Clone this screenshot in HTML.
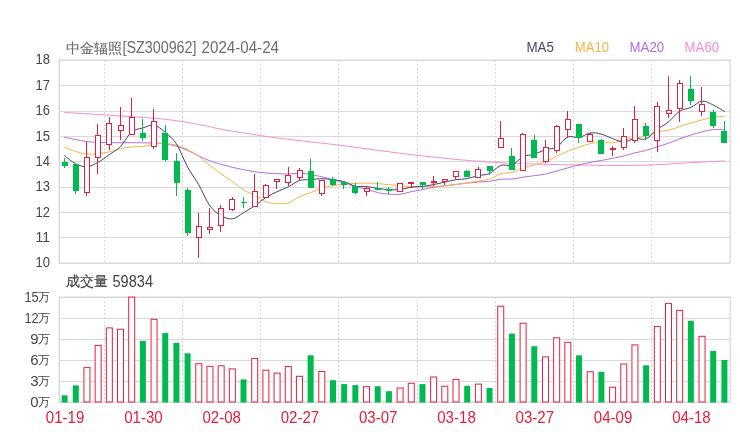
<!DOCTYPE html><html><head><meta charset="utf-8"><style>html,body{margin:0;padding:0;background:#fff;width:740px;height:440px;overflow:hidden}svg{display:block;will-change:transform}text{font-family:"Liberation Sans",sans-serif}</style></head><body>
<svg width="740" height="440" viewBox="0 0 740 440">
<rect width="740" height="440" fill="#fff"/>
<g stroke="#d9d9d9" stroke-width="1" fill="none">
<line x1="59" y1="85.5" x2="730" y2="85.5"/>
<line x1="59" y1="111.5" x2="730" y2="111.5"/>
<line x1="59" y1="136.5" x2="730" y2="136.5"/>
<line x1="59" y1="161.5" x2="730" y2="161.5"/>
<line x1="59" y1="187.5" x2="730" y2="187.5"/>
<line x1="59" y1="212.5" x2="730" y2="212.5"/>
<line x1="59" y1="237.5" x2="730" y2="237.5"/>
<rect x="59" y="60" width="671" height="203"/>
<path d="M59 60.5 H730 M59 263.5 H730 M59.5 60 V264"/>
<line x1="59" y1="318.5" x2="730" y2="318.5"/>
<line x1="59" y1="339.5" x2="730" y2="339.5"/>
<line x1="59" y1="360.5" x2="730" y2="360.5"/>
<line x1="59" y1="381.5" x2="730" y2="381.5"/>
<rect x="59" y="297" width="671" height="105"/>
<path d="M59 297.5 H730 M59 402.5 H730 M59.5 297 V403"/>
</g>
<g stroke="#d9d9d9" stroke-width="1" stroke-dasharray="2 2" fill="none">
<line x1="104.5" y1="60" x2="104.5" y2="263"/>
<line x1="104.5" y1="297" x2="104.5" y2="402"/>
<line x1="182.5" y1="60" x2="182.5" y2="263"/>
<line x1="182.5" y1="297" x2="182.5" y2="402"/>
<line x1="260.5" y1="60" x2="260.5" y2="263"/>
<line x1="260.5" y1="297" x2="260.5" y2="402"/>
<line x1="338.5" y1="60" x2="338.5" y2="263"/>
<line x1="338.5" y1="297" x2="338.5" y2="402"/>
<line x1="417.5" y1="60" x2="417.5" y2="263"/>
<line x1="417.5" y1="297" x2="417.5" y2="402"/>
<line x1="495.5" y1="60" x2="495.5" y2="263"/>
<line x1="495.5" y1="297" x2="495.5" y2="402"/>
<line x1="573.5" y1="60" x2="573.5" y2="263"/>
<line x1="573.5" y1="297" x2="573.5" y2="402"/>
<line x1="651.5" y1="60" x2="651.5" y2="263"/>
<line x1="651.5" y1="297" x2="651.5" y2="402"/>
<line x1="730.5" y1="60" x2="730.5" y2="263"/>
<line x1="730.5" y1="297" x2="730.5" y2="402"/>
</g>
<g fill="none" stroke-width="1" stroke-linejoin="round" stroke-linecap="round">
<path stroke="#f88dc9" d="M64.60 112.40 C71.27 112.82 92.02 114.08 104.60 114.90 C117.18 115.72 130.80 116.65 140.10 117.30 C149.40 117.95 153.30 118.08 160.40 118.80 C167.50 119.52 176.10 120.58 182.70 121.60 C189.30 122.62 195.62 124.10 200.00 124.90 C204.38 125.70 205.10 125.60 209.00 126.40 C212.90 127.20 214.77 128.17 223.40 129.70 C232.03 131.23 250.53 134.07 260.80 135.60 C271.07 137.13 271.80 137.28 285.00 138.90 C298.20 140.52 318.00 142.57 340.00 145.30 C362.00 148.03 393.67 152.62 417.00 155.30 C440.33 157.98 461.05 159.97 480.00 161.40 C498.95 162.83 513.80 163.30 530.70 163.90 C547.60 164.50 567.35 164.73 581.40 165.00 C595.45 165.27 603.40 165.50 615.00 165.50 C626.60 165.50 638.30 165.48 651.00 165.00 C663.70 164.52 678.97 163.28 691.20 162.60 C703.43 161.92 718.87 161.18 724.40 160.90"/>
<path stroke="#b26fe4" d="M64.59 137.20 C66.46 137.60 72.05 138.87 75.78 139.60 C79.50 140.33 83.23 141.13 86.96 141.60 C90.69 142.07 94.41 142.22 98.14 142.40 C101.87 142.58 105.60 142.65 109.33 142.70 C113.05 142.75 116.78 142.70 120.51 142.70 C124.24 142.70 127.96 142.68 131.69 142.70 C135.42 142.72 139.15 142.75 142.88 142.80 C146.60 142.85 150.33 142.83 154.06 143.00 C157.79 143.17 161.51 143.27 165.24 143.80 C168.97 144.33 172.70 145.12 176.43 146.20 C180.15 147.28 183.88 148.68 187.61 150.30 C191.34 151.92 195.06 154.15 198.79 155.90 C202.52 157.65 206.25 159.38 209.97 160.80 C213.70 162.22 217.43 163.32 221.16 164.40 C224.89 165.48 228.61 166.42 232.34 167.30 C236.07 168.18 239.80 168.97 243.53 169.70 C247.25 170.43 250.98 171.15 254.71 171.70 C258.44 172.25 262.16 172.69 265.89 173.00 C269.62 173.31 273.35 173.41 277.08 173.58 C280.80 173.75 284.53 174.14 288.26 174.05 C291.99 173.96 295.71 172.95 299.44 173.03 C303.17 173.12 306.90 173.92 310.62 174.54 C314.35 175.17 318.08 175.89 321.81 176.78 C325.54 177.66 329.26 178.85 332.99 179.85 C336.72 180.86 340.45 181.70 344.18 182.83 C347.90 183.96 351.63 185.56 355.36 186.62 C359.09 187.68 362.81 188.16 366.54 189.16 C370.27 190.16 374.00 191.77 377.73 192.61 C381.45 193.45 385.18 193.92 388.91 194.19 C392.64 194.45 396.36 194.64 400.09 194.22 C403.82 193.80 407.55 192.43 411.28 191.66 C415.00 190.88 418.73 190.31 422.46 189.58 C426.19 188.85 429.91 187.89 433.64 187.26 C437.37 186.63 441.10 186.28 444.82 185.81 C448.55 185.33 452.28 184.86 456.01 184.42 C459.74 183.97 463.46 183.53 467.19 183.13 C470.92 182.73 474.65 182.32 478.38 182.02 C482.10 181.71 485.83 181.76 489.56 181.30 C493.29 180.83 497.01 179.61 500.74 179.22 C504.47 178.84 508.20 179.33 511.93 178.99 C515.65 178.65 519.38 177.73 523.11 177.18 C526.84 176.63 530.56 176.21 534.29 175.68 C538.02 175.16 541.75 174.79 545.48 174.03 C549.20 173.26 552.93 172.13 556.66 171.09 C560.39 170.06 564.11 168.83 567.84 167.82 C571.57 166.81 575.30 165.95 579.02 165.03 C582.75 164.10 586.48 163.06 590.21 162.30 C593.94 161.54 597.66 161.13 601.39 160.47 C605.12 159.80 608.85 159.06 612.58 158.31 C616.30 157.56 620.03 156.87 623.76 155.95 C627.49 155.04 631.21 153.75 634.94 152.83 C638.67 151.90 642.40 151.43 646.12 150.41 C649.85 149.38 653.58 147.87 657.31 146.68 C661.04 145.49 664.76 144.56 668.49 143.25 C672.22 141.94 675.95 140.20 679.68 138.83 C683.40 137.46 687.13 136.22 690.86 135.05 C694.59 133.87 698.31 132.72 702.04 131.81 C705.77 130.89 709.50 129.89 713.23 129.55 C716.95 129.21 722.54 129.74 724.41 129.78"/>
<path stroke="#f7b348" d="M64.59 147.30 C66.46 148.02 72.05 150.47 75.78 151.60 C79.50 152.73 83.23 153.73 86.96 154.10 C90.69 154.47 94.41 154.18 98.14 153.80 C101.87 153.42 105.60 152.63 109.33 151.80 C113.05 150.97 116.78 149.62 120.51 148.80 C124.24 147.98 127.96 147.28 131.69 146.90 C135.42 146.52 139.15 146.95 142.88 146.50 C146.60 146.05 150.33 144.70 154.06 144.20 C157.79 143.70 161.51 143.34 165.24 143.51 C168.97 143.67 172.70 144.20 176.43 145.19 C180.15 146.18 183.88 147.60 187.61 149.46 C191.34 151.32 195.06 153.68 198.79 156.36 C202.52 159.04 206.25 162.58 209.97 165.52 C213.70 168.46 217.43 171.37 221.16 174.02 C224.89 176.67 228.61 178.76 232.34 181.41 C236.07 184.06 239.80 187.59 243.53 189.90 C247.25 192.21 250.98 193.30 254.71 195.26 C258.44 197.22 262.16 200.28 265.89 201.68 C269.62 203.08 273.35 203.45 277.08 203.65 C280.80 203.85 284.53 204.08 288.26 202.91 C291.99 201.73 295.71 198.30 299.44 196.60 C303.17 194.91 306.90 194.15 310.62 192.72 C314.35 191.30 318.08 189.21 321.81 188.03 C325.54 186.86 329.26 186.32 332.99 185.69 C336.72 185.06 340.45 184.64 344.18 184.25 C347.90 183.86 351.63 183.54 355.36 183.34 C359.09 183.14 362.81 183.03 366.54 183.06 C370.27 183.09 374.00 183.26 377.73 183.54 C381.45 183.82 385.18 184.39 388.91 184.72 C392.64 185.05 396.36 185.20 400.09 185.54 C403.82 185.87 407.55 186.55 411.28 186.70 C415.00 186.85 418.73 186.47 422.46 186.44 C426.19 186.40 429.91 186.57 433.64 186.49 C437.37 186.40 441.10 186.24 444.82 185.92 C448.55 185.60 452.28 185.08 456.01 184.58 C459.74 184.08 463.46 183.52 467.19 182.92 C470.92 182.32 474.65 181.62 478.38 180.97 C482.10 180.32 485.83 180.26 489.56 179.05 C493.29 177.84 497.01 174.83 500.74 173.73 C504.47 172.63 508.20 173.45 511.93 172.44 C515.65 171.43 519.38 168.90 523.11 167.65 C526.84 166.40 530.56 165.94 534.29 164.93 C538.02 163.92 541.75 163.01 545.48 161.57 C549.20 160.13 552.93 158.02 556.66 156.27 C560.39 154.52 564.11 152.58 567.84 151.06 C571.57 149.54 575.30 148.37 579.02 147.13 C582.75 145.89 586.48 144.50 590.21 143.62 C593.94 142.75 597.66 142.00 601.39 141.88 C605.12 141.76 608.85 143.29 612.58 142.89 C616.30 142.49 620.03 140.28 623.76 139.47 C627.49 138.66 631.21 138.61 634.94 138.01 C638.67 137.41 642.40 136.92 646.12 135.88 C649.85 134.84 653.58 132.73 657.31 131.79 C661.04 130.85 664.76 131.09 668.49 130.23 C672.22 129.36 675.95 127.81 679.68 126.60 C683.40 125.39 687.13 124.06 690.86 122.96 C694.59 121.86 698.31 120.95 702.04 119.99 C705.77 119.03 709.50 117.78 713.23 117.22 C716.95 116.66 722.54 116.75 724.41 116.66"/>
<path stroke="#45456e" d="M64.59 155.70 C66.46 157.07 72.05 162.07 75.78 163.90 C79.50 165.73 83.23 166.97 86.96 166.70 C90.69 166.43 94.41 164.32 98.14 162.30 C101.87 160.28 105.60 157.24 109.33 154.60 C113.05 151.96 116.78 150.27 120.51 146.48 C124.24 142.69 127.96 134.94 131.69 131.86 C135.42 128.78 139.15 129.13 142.88 128.00 C146.60 126.87 150.33 124.34 154.06 125.08 C157.79 125.82 161.51 129.28 165.24 132.42 C168.97 135.56 172.70 138.13 176.43 143.90 C180.15 149.67 183.88 160.26 187.61 167.06 C191.34 173.86 195.06 178.24 198.79 184.72 C202.52 191.20 206.25 200.81 209.97 205.96 C213.70 211.11 217.43 213.46 221.16 215.62 C224.89 217.78 228.61 219.40 232.34 218.92 C236.07 218.44 239.80 214.93 243.53 212.74 C247.25 210.55 250.98 208.36 254.71 205.80 C258.44 203.24 262.16 199.75 265.89 197.40 C269.62 195.05 273.35 193.43 277.08 191.68 C280.80 189.93 284.53 188.76 288.26 186.89 C291.99 185.02 295.71 181.68 299.44 180.47 C303.17 179.26 306.90 179.95 310.62 179.65 C314.35 179.35 318.08 178.66 321.81 178.67 C325.54 178.68 329.26 179.21 332.99 179.70 C336.72 180.19 340.45 180.52 344.18 181.61 C347.90 182.69 351.63 185.40 355.36 186.21 C359.09 187.02 362.81 186.10 366.54 186.47 C370.27 186.84 374.00 187.87 377.73 188.41 C381.45 188.96 385.18 189.56 388.91 189.74 C392.64 189.92 396.36 189.88 400.09 189.46 C403.82 189.04 407.55 187.71 411.28 187.20 C415.00 186.69 418.73 186.84 422.46 186.40 C426.19 185.96 429.91 185.28 433.64 184.56 C437.37 183.84 441.10 182.91 444.82 182.10 C448.55 181.29 452.28 180.28 456.01 179.70 C459.74 179.12 463.46 179.33 467.19 178.64 C470.92 177.95 474.65 176.39 478.38 175.54 C482.10 174.69 485.83 175.24 489.56 173.54 C493.29 171.84 497.01 166.75 500.74 165.36 C504.47 163.97 508.20 166.63 511.93 165.18 C515.65 163.73 519.38 158.47 523.11 156.66 C526.84 154.85 530.56 155.50 534.29 154.32 C538.02 153.14 541.75 150.79 545.48 149.60 C549.20 148.41 552.93 149.29 556.66 147.18 C560.39 145.07 564.11 138.54 567.84 136.94 C571.57 135.34 575.30 138.27 579.02 137.60 C582.75 136.93 586.48 133.49 590.21 132.92 C593.94 132.35 597.66 133.21 601.39 134.16 C605.12 135.11 608.85 137.29 612.58 138.60 C616.30 139.91 620.03 142.03 623.76 142.00 C627.49 141.97 631.21 138.95 634.94 138.42 C638.67 137.89 642.40 140.34 646.12 138.84 C649.85 137.34 653.58 132.25 657.31 129.42 C661.04 126.59 664.76 124.90 668.49 121.86 C672.22 118.82 675.95 113.59 679.68 111.20 C683.40 108.81 687.13 109.18 690.86 107.50 C694.59 105.82 698.31 101.55 702.04 101.14 C705.77 100.73 709.50 103.30 713.23 105.02 C716.95 106.74 722.54 110.39 724.41 111.46"/>
</g>
<path stroke="#00b94f" stroke-width="1" fill="none" d="M64.5 158.0 V168.0"/>
<rect x="62" y="162" width="6" height="4" fill="#00b94f"/>
<path stroke="#00b94f" stroke-width="1" fill="none" d="M75.5 164.0 V194.0"/>
<rect x="73" y="164" width="6" height="27" fill="#00b94f"/>
<path stroke="#e2203f" stroke-width="1" fill="none" d="M86.5 142 V157.5 M86.5 192.5 V196"/>
<rect x="84.5" y="157.5" width="5" height="35.0" fill="#fff" stroke="#e2203f" stroke-width="1"/>
<path stroke="#e2203f" stroke-width="1" fill="none" d="M97.5 124 V135.5 M97.5 157.5 V174"/>
<rect x="95.5" y="135.5" width="5" height="22.0" fill="#fff" stroke="#e2203f" stroke-width="1"/>
<path stroke="#e2203f" stroke-width="1" fill="none" d="M109.5 117 V123.5 M109.5 144.5 V150"/>
<rect x="106.5" y="123.5" width="5" height="21.0" fill="#fff" stroke="#e2203f" stroke-width="1"/>
<path stroke="#e2203f" stroke-width="1" fill="none" d="M120.5 107 V125.5 M120.5 130.5 V140"/>
<rect x="118.5" y="125.5" width="5" height="5.0" fill="#fff" stroke="#e2203f" stroke-width="1"/>
<path stroke="#e2203f" stroke-width="1" fill="none" d="M131.5 98 V117.5 M131.5 134.5 V134"/>
<rect x="129.5" y="117.5" width="5" height="17.0" fill="#fff" stroke="#e2203f" stroke-width="1"/>
<path stroke="#00b94f" stroke-width="1" fill="none" d="M142.5 119.0 V141.0"/>
<rect x="140" y="133" width="6" height="5" fill="#00b94f"/>
<path stroke="#e2203f" stroke-width="1" fill="none" d="M153.5 109 V121.5 M153.5 146.5 V149"/>
<rect x="151.5" y="121.5" width="5" height="25.0" fill="#fff" stroke="#e2203f" stroke-width="1"/>
<path stroke="#00b94f" stroke-width="1" fill="none" d="M165.5 125.0 V161.0"/>
<rect x="162" y="133" width="6" height="27" fill="#00b94f"/>
<path stroke="#00b94f" stroke-width="1" fill="none" d="M176.5 153.0 V196.0"/>
<rect x="174" y="161" width="6" height="22" fill="#00b94f"/>
<path stroke="#00b94f" stroke-width="1" fill="none" d="M187.5 188.0 V236.0"/>
<rect x="185" y="190" width="6" height="43" fill="#00b94f"/>
<path stroke="#e2203f" stroke-width="1" fill="none" d="M198.5 213 V226.5 M198.5 237.5 V258"/>
<rect x="196.5" y="226.5" width="5" height="11.0" fill="#fff" stroke="#e2203f" stroke-width="1"/>
<path stroke="#e2203f" stroke-width="1" fill="none" d="M209.5 208 V227.5 M209.5 229.5 V234"/>
<rect x="207.5" y="227.5" width="5" height="2.0" fill="#fff" stroke="#e2203f" stroke-width="1"/>
<path stroke="#e2203f" stroke-width="1" fill="none" d="M220.5 205 V208.5 M220.5 225.5 V232"/>
<rect x="218.5" y="208.5" width="5" height="17.0" fill="#fff" stroke="#e2203f" stroke-width="1"/>
<path stroke="#e2203f" stroke-width="1" fill="none" d="M232.5 197 V199.5 M232.5 209.5 V211"/>
<rect x="229.5" y="199.5" width="5" height="10.0" fill="#fff" stroke="#e2203f" stroke-width="1"/>
<path stroke="#00b94f" stroke-width="1" fill="none" d="M243.5 197.0 V208.0"/>
<rect x="241" y="202" width="6" height="1" fill="#00b94f"/>
<path stroke="#e2203f" stroke-width="1" fill="none" d="M254.5 174 V191.5 M254.5 206.5 V206"/>
<rect x="252.5" y="191.5" width="5" height="15.0" fill="#fff" stroke="#e2203f" stroke-width="1"/>
<path stroke="#e2203f" stroke-width="1" fill="none" d="M265.5 184 V185.5 M265.5 197.5 V197"/>
<rect x="263.5" y="185.5" width="5" height="12.0" fill="#fff" stroke="#e2203f" stroke-width="1"/>
<path stroke="#e2203f" stroke-width="1" fill="none" d="M276.5 180 V179.5 M276.5 181.5 V189"/>
<rect x="274.5" y="179.5" width="5" height="2.0" fill="#fff" stroke="#e2203f" stroke-width="1"/>
<path stroke="#e2203f" stroke-width="1" fill="none" d="M288.5 167 V175.5 M288.5 182.5 V186"/>
<rect x="285.5" y="175.5" width="5" height="7.0" fill="#fff" stroke="#e2203f" stroke-width="1"/>
<path stroke="#e2203f" stroke-width="1" fill="none" d="M299.5 168 V170.5 M299.5 177.5 V181"/>
<rect x="297.5" y="170.5" width="5" height="7.0" fill="#fff" stroke="#e2203f" stroke-width="1"/>
<path stroke="#00b94f" stroke-width="1" fill="none" d="M310.5 159.0 V188.0"/>
<rect x="308" y="171" width="6" height="17" fill="#00b94f"/>
<path stroke="#e2203f" stroke-width="1" fill="none" d="M321.5 180 V180.5 M321.5 193.5 V196"/>
<rect x="319.5" y="180.5" width="5" height="13.0" fill="#fff" stroke="#e2203f" stroke-width="1"/>
<path stroke="#00b94f" stroke-width="1" fill="none" d="M332.5 177.0 V186.0"/>
<rect x="330" y="179" width="6" height="6" fill="#00b94f"/>
<path stroke="#00b94f" stroke-width="1" fill="none" d="M343.5 181.0 V189.0"/>
<rect x="341" y="182" width="6" height="3" fill="#00b94f"/>
<path stroke="#00b94f" stroke-width="1" fill="none" d="M355.5 183.0 V194.0"/>
<rect x="352" y="186" width="6" height="7" fill="#00b94f"/>
<path stroke="#e2203f" stroke-width="1" fill="none" d="M366.5 186 V188.5 M366.5 191.5 V196"/>
<rect x="364.5" y="188.5" width="5" height="3.0" fill="#fff" stroke="#e2203f" stroke-width="1"/>
<path stroke="#00b94f" stroke-width="1" fill="none" d="M377.5 182.0 V190.0"/>
<rect x="375" y="188" width="6" height="2" fill="#00b94f"/>
<path stroke="#00b94f" stroke-width="1" fill="none" d="M388.5 187.0 V194.0"/>
<rect x="386" y="189" width="6" height="2" fill="#00b94f"/>
<path stroke="#e2203f" stroke-width="1" fill="none" d="M399.5 183 V183.5 M399.5 191.5 V192"/>
<rect x="397.5" y="183.5" width="5" height="8.0" fill="#fff" stroke="#e2203f" stroke-width="1"/>
<path stroke="#e2203f" stroke-width="1" fill="none" d="M411.5 182 V182.5 M411.5 183.5 V188"/>
<rect x="408.5" y="182.5" width="5" height="1.0" fill="#fff" stroke="#e2203f" stroke-width="1"/>
<path stroke="#00b94f" stroke-width="1" fill="none" d="M422.5 182.0 V189.0"/>
<rect x="420" y="182" width="6" height="3" fill="#00b94f"/>
<path stroke="#e2203f" stroke-width="1" fill="none" d="M433.5 176 V181.5 M433.5 182.5 V186"/>
<rect x="431.5" y="181.5" width="5" height="1.0" fill="#fff" stroke="#e2203f" stroke-width="1"/>
<path stroke="#e2203f" stroke-width="1" fill="none" d="M444.5 179 V179.5 M444.5 181.5 V185"/>
<rect x="442.5" y="179.5" width="5" height="2.0" fill="#fff" stroke="#e2203f" stroke-width="1"/>
<path stroke="#e2203f" stroke-width="1" fill="none" d="M455.5 171 V171.5 M455.5 176.5 V179"/>
<rect x="453.5" y="171.5" width="5" height="5.0" fill="#fff" stroke="#e2203f" stroke-width="1"/>
<path stroke="#00b94f" stroke-width="1" fill="none" d="M466.5 170.0 V177.0"/>
<rect x="464" y="171" width="6" height="6" fill="#00b94f"/>
<path stroke="#e2203f" stroke-width="1" fill="none" d="M478.5 167 V169.5 M478.5 177.5 V177"/>
<rect x="475.5" y="169.5" width="5" height="8.0" fill="#fff" stroke="#e2203f" stroke-width="1"/>
<path stroke="#00b94f" stroke-width="1" fill="none" d="M489.5 166.0 V175.0"/>
<rect x="487" y="166" width="6" height="5" fill="#00b94f"/>
<path stroke="#e2203f" stroke-width="1" fill="none" d="M500.5 121 V138.5 M500.5 147.5 V148"/>
<rect x="498.5" y="138.5" width="5" height="9.0" fill="#fff" stroke="#e2203f" stroke-width="1"/>
<path stroke="#00b94f" stroke-width="1" fill="none" d="M511.5 148.0 V170.0"/>
<rect x="509" y="156" width="6" height="14" fill="#00b94f"/>
<path stroke="#e2203f" stroke-width="1" fill="none" d="M522.5 133 V134.5 M522.5 170.5 V170"/>
<rect x="520.5" y="134.5" width="5" height="36.0" fill="#fff" stroke="#e2203f" stroke-width="1"/>
<path stroke="#00b94f" stroke-width="1" fill="none" d="M534.5 135.0 V158.0"/>
<rect x="531" y="140" width="6" height="18" fill="#00b94f"/>
<path stroke="#e2203f" stroke-width="1" fill="none" d="M545.5 140 V147.5 M545.5 161.5 V163"/>
<rect x="543.5" y="147.5" width="5" height="14.0" fill="#fff" stroke="#e2203f" stroke-width="1"/>
<path stroke="#e2203f" stroke-width="1" fill="none" d="M556.5 125 V126.5 M556.5 150.5 V153"/>
<rect x="554.5" y="126.5" width="5" height="24.0" fill="#fff" stroke="#e2203f" stroke-width="1"/>
<path stroke="#e2203f" stroke-width="1" fill="none" d="M567.5 111 V119.5 M567.5 129.5 V138"/>
<rect x="565.5" y="119.5" width="5" height="10.0" fill="#fff" stroke="#e2203f" stroke-width="1"/>
<path stroke="#00b94f" stroke-width="1" fill="none" d="M578.5 124.0 V143.0"/>
<rect x="576" y="124" width="6" height="14" fill="#00b94f"/>
<path stroke="#e2203f" stroke-width="1" fill="none" d="M590.5 133 V134.5 M590.5 141.5 V142"/>
<rect x="587.5" y="134.5" width="5" height="7.0" fill="#fff" stroke="#e2203f" stroke-width="1"/>
<path stroke="#00b94f" stroke-width="1" fill="none" d="M601.5 139.0 V154.0"/>
<rect x="598" y="140" width="6" height="14" fill="#00b94f"/>
<path stroke="#e2203f" stroke-width="1" fill="none" d="M612.5 146 V148.5 M612.5 149.5 V156"/>
<rect x="610.5" y="148.5" width="5" height="1.0" fill="#fff" stroke="#e2203f" stroke-width="1"/>
<path stroke="#e2203f" stroke-width="1" fill="none" d="M623.5 128 V136.5 M623.5 147.5 V150"/>
<rect x="621.5" y="136.5" width="5" height="11.0" fill="#fff" stroke="#e2203f" stroke-width="1"/>
<path stroke="#e2203f" stroke-width="1" fill="none" d="M634.5 106 V119.5 M634.5 140.5 V143"/>
<rect x="632.5" y="119.5" width="5" height="21.0" fill="#fff" stroke="#e2203f" stroke-width="1"/>
<path stroke="#00b94f" stroke-width="1" fill="none" d="M645.5 123.0 V140.0"/>
<rect x="643" y="126" width="6" height="10" fill="#00b94f"/>
<path stroke="#e2203f" stroke-width="1" fill="none" d="M657.5 102 V106.5 M657.5 140.5 V152"/>
<rect x="654.5" y="106.5" width="5" height="34.0" fill="#fff" stroke="#e2203f" stroke-width="1"/>
<path stroke="#e2203f" stroke-width="1" fill="none" d="M668.5 76 V110.5 M668.5 113.5 V118"/>
<rect x="666.5" y="110.5" width="5" height="3.0" fill="#fff" stroke="#e2203f" stroke-width="1"/>
<path stroke="#e2203f" stroke-width="1" fill="none" d="M679.5 80 V83.5 M679.5 108.5 V122"/>
<rect x="677.5" y="83.5" width="5" height="25.0" fill="#fff" stroke="#e2203f" stroke-width="1"/>
<path stroke="#00b94f" stroke-width="1" fill="none" d="M690.5 76.0 V105.0"/>
<rect x="688" y="89" width="6" height="12" fill="#00b94f"/>
<path stroke="#e2203f" stroke-width="1" fill="none" d="M701.5 87 V104.5 M701.5 111.5 V116"/>
<rect x="699.5" y="104.5" width="5" height="7.0" fill="#fff" stroke="#e2203f" stroke-width="1"/>
<path stroke="#00b94f" stroke-width="1" fill="none" d="M713.5 110.0 V128.0"/>
<rect x="710" y="112" width="6" height="14" fill="#00b94f"/>
<path stroke="#00b94f" stroke-width="1" fill="none" d="M724.5 121.0 V143.0"/>
<rect x="721" y="131" width="6" height="12" fill="#00b94f"/>
<rect x="61.59" y="395.3" width="6" height="7.2" fill="#00b94f"/>
<rect x="72.78" y="385.4" width="6" height="17.1" fill="#00b94f"/>
<rect x="83.96" y="367.6" width="6" height="34.4" fill="#fff" stroke="#e2203f" stroke-width="1"/>
<rect x="95.14" y="345.4" width="6" height="56.6" fill="#fff" stroke="#e2203f" stroke-width="1"/>
<rect x="106.33" y="327.9" width="6" height="74.1" fill="#fff" stroke="#e2203f" stroke-width="1"/>
<rect x="117.51" y="329.2" width="6" height="72.8" fill="#fff" stroke="#e2203f" stroke-width="1"/>
<rect x="128.69" y="297.1" width="6" height="104.9" fill="#fff" stroke="#e2203f" stroke-width="1"/>
<rect x="139.88" y="341.0" width="6" height="61.5" fill="#00b94f"/>
<rect x="151.06" y="319.3" width="6" height="82.7" fill="#fff" stroke="#e2203f" stroke-width="1"/>
<rect x="162.24" y="333.1" width="6" height="69.4" fill="#00b94f"/>
<rect x="173.43" y="342.8" width="6" height="59.7" fill="#00b94f"/>
<rect x="184.61" y="353.3" width="6" height="49.2" fill="#00b94f"/>
<rect x="195.79" y="363.7" width="6" height="38.3" fill="#fff" stroke="#e2203f" stroke-width="1"/>
<rect x="206.97" y="366.3" width="6" height="35.7" fill="#fff" stroke="#e2203f" stroke-width="1"/>
<rect x="218.16" y="365.8" width="6" height="36.2" fill="#fff" stroke="#e2203f" stroke-width="1"/>
<rect x="229.34" y="368.9" width="6" height="33.1" fill="#fff" stroke="#e2203f" stroke-width="1"/>
<rect x="240.53" y="379.4" width="6" height="23.1" fill="#00b94f"/>
<rect x="251.71" y="358.5" width="6" height="43.5" fill="#fff" stroke="#e2203f" stroke-width="1"/>
<rect x="262.89" y="370.2" width="6" height="31.8" fill="#fff" stroke="#e2203f" stroke-width="1"/>
<rect x="274.08" y="373.1" width="6" height="28.9" fill="#fff" stroke="#e2203f" stroke-width="1"/>
<rect x="285.26" y="366.6" width="6" height="35.4" fill="#fff" stroke="#e2203f" stroke-width="1"/>
<rect x="296.44" y="376.3" width="6" height="25.7" fill="#fff" stroke="#e2203f" stroke-width="1"/>
<rect x="307.62" y="355.3" width="6" height="47.2" fill="#00b94f"/>
<rect x="318.81" y="371.5" width="6" height="30.5" fill="#fff" stroke="#e2203f" stroke-width="1"/>
<rect x="329.99" y="380.2" width="6" height="22.3" fill="#00b94f"/>
<rect x="341.18" y="384.1" width="6" height="18.4" fill="#00b94f"/>
<rect x="352.36" y="385.1" width="6" height="17.4" fill="#00b94f"/>
<rect x="363.54" y="386.7" width="6" height="15.3" fill="#fff" stroke="#e2203f" stroke-width="1"/>
<rect x="374.73" y="386.2" width="6" height="16.3" fill="#00b94f"/>
<rect x="385.91" y="391.2" width="6" height="11.3" fill="#00b94f"/>
<rect x="397.09" y="388.0" width="6" height="14.0" fill="#fff" stroke="#e2203f" stroke-width="1"/>
<rect x="408.28" y="383.3" width="6" height="18.7" fill="#fff" stroke="#e2203f" stroke-width="1"/>
<rect x="419.46" y="384.1" width="6" height="18.4" fill="#00b94f"/>
<rect x="430.64" y="377.0" width="6" height="25.0" fill="#fff" stroke="#e2203f" stroke-width="1"/>
<rect x="441.82" y="386.2" width="6" height="15.8" fill="#fff" stroke="#e2203f" stroke-width="1"/>
<rect x="453.01" y="379.4" width="6" height="22.6" fill="#fff" stroke="#e2203f" stroke-width="1"/>
<rect x="464.19" y="385.9" width="6" height="16.6" fill="#00b94f"/>
<rect x="475.38" y="384.1" width="6" height="17.9" fill="#fff" stroke="#e2203f" stroke-width="1"/>
<rect x="486.56" y="388.0" width="6" height="14.5" fill="#00b94f"/>
<rect x="497.74" y="306.2" width="6" height="95.8" fill="#fff" stroke="#e2203f" stroke-width="1"/>
<rect x="508.93" y="333.6" width="6" height="68.9" fill="#00b94f"/>
<rect x="520.11" y="323.2" width="6" height="78.8" fill="#fff" stroke="#e2203f" stroke-width="1"/>
<rect x="531.29" y="346.2" width="6" height="56.3" fill="#00b94f"/>
<rect x="542.48" y="356.9" width="6" height="45.1" fill="#fff" stroke="#e2203f" stroke-width="1"/>
<rect x="553.66" y="337.8" width="6" height="64.2" fill="#fff" stroke="#e2203f" stroke-width="1"/>
<rect x="564.84" y="342.3" width="6" height="59.7" fill="#fff" stroke="#e2203f" stroke-width="1"/>
<rect x="576.02" y="355.3" width="6" height="47.2" fill="#00b94f"/>
<rect x="587.21" y="371.8" width="6" height="30.2" fill="#fff" stroke="#e2203f" stroke-width="1"/>
<rect x="598.39" y="371.8" width="6" height="30.7" fill="#00b94f"/>
<rect x="609.58" y="387.2" width="6" height="14.8" fill="#fff" stroke="#e2203f" stroke-width="1"/>
<rect x="620.76" y="364.0" width="6" height="38.0" fill="#fff" stroke="#e2203f" stroke-width="1"/>
<rect x="631.94" y="344.9" width="6" height="57.1" fill="#fff" stroke="#e2203f" stroke-width="1"/>
<rect x="643.12" y="365.3" width="6" height="37.2" fill="#00b94f"/>
<rect x="654.31" y="326.6" width="6" height="75.4" fill="#fff" stroke="#e2203f" stroke-width="1"/>
<rect x="665.49" y="303.6" width="6" height="98.4" fill="#fff" stroke="#e2203f" stroke-width="1"/>
<rect x="676.68" y="310.4" width="6" height="91.6" fill="#fff" stroke="#e2203f" stroke-width="1"/>
<rect x="687.86" y="320.8" width="6" height="81.7" fill="#00b94f"/>
<rect x="699.04" y="336.3" width="6" height="65.7" fill="#fff" stroke="#e2203f" stroke-width="1"/>
<rect x="710.23" y="350.9" width="6" height="51.6" fill="#00b94f"/>
<rect x="721.41" y="360.0" width="6" height="42.5" fill="#00b94f"/>
<text x="66" y="52.5" font-size="14" fill="#6e6e6e" stroke="#6e6e6e" stroke-width="0.15" textLength="56.5" lengthAdjust="spacingAndGlyphs">中金辐照</text>
<text x="122.5" y="52.6" font-size="15.8" fill="#6e6e6e" textLength="74" lengthAdjust="spacingAndGlyphs">[SZ300962]</text>
<text x="201.6" y="52.7" font-size="15.8" fill="#6e6e6e" textLength="77.4" lengthAdjust="spacingAndGlyphs">2024-04-24</text>
<text x="66" y="286.4" font-size="14" fill="#444" stroke="#444" stroke-width="0.15" textLength="42" lengthAdjust="spacingAndGlyphs">成交量</text>
<text x="112.5" y="286.5" font-size="15.8" fill="#444" textLength="40.5" lengthAdjust="spacingAndGlyphs">59834</text>
<text x="50" y="64.4" font-size="15" fill="#464646" textLength="14.4" lengthAdjust="spacingAndGlyphs" text-anchor="end">18</text>
<text x="50" y="89.8" font-size="15" fill="#464646" textLength="14.4" lengthAdjust="spacingAndGlyphs" text-anchor="end">17</text>
<text x="50" y="115.2" font-size="15" fill="#464646" textLength="14.4" lengthAdjust="spacingAndGlyphs" text-anchor="end">16</text>
<text x="50" y="140.5" font-size="15" fill="#464646" textLength="14.4" lengthAdjust="spacingAndGlyphs" text-anchor="end">15</text>
<text x="50" y="165.9" font-size="15" fill="#464646" textLength="14.4" lengthAdjust="spacingAndGlyphs" text-anchor="end">14</text>
<text x="50" y="191.3" font-size="15" fill="#464646" textLength="14.4" lengthAdjust="spacingAndGlyphs" text-anchor="end">13</text>
<text x="50" y="216.7" font-size="15" fill="#464646" textLength="14.4" lengthAdjust="spacingAndGlyphs" text-anchor="end">12</text>
<text x="50" y="242.0" font-size="15" fill="#464646" textLength="14.4" lengthAdjust="spacingAndGlyphs" text-anchor="end">11</text>
<text x="50" y="267.4" font-size="15" fill="#464646" textLength="14.4" lengthAdjust="spacingAndGlyphs" text-anchor="end">10</text>
<text x="38.6" y="301.7" font-size="15" fill="#464646" textLength="14.2" lengthAdjust="spacingAndGlyphs" text-anchor="end">15</text>
<text x="38.2" y="301.1" font-size="12" fill="#464646">万</text>
<text x="38.6" y="322.7" font-size="15" fill="#464646" textLength="14.2" lengthAdjust="spacingAndGlyphs" text-anchor="end">12</text>
<text x="38.2" y="322.1" font-size="12" fill="#464646">万</text>
<text x="38.6" y="343.7" font-size="15" fill="#464646" text-anchor="end">9</text>
<text x="38.2" y="343.1" font-size="12" fill="#464646">万</text>
<text x="38.6" y="364.7" font-size="15" fill="#464646" text-anchor="end">6</text>
<text x="38.2" y="364.1" font-size="12" fill="#464646">万</text>
<text x="38.6" y="385.7" font-size="15" fill="#464646" text-anchor="end">3</text>
<text x="38.2" y="385.1" font-size="12" fill="#464646">万</text>
<text x="38.6" y="406.7" font-size="15" fill="#464646" text-anchor="end">0</text>
<text x="38.2" y="406.1" font-size="12" fill="#464646">万</text>
<text x="65.1" y="422.5" font-size="15.8" fill="#e2203f" textLength="38.5" lengthAdjust="spacingAndGlyphs" text-anchor="middle">01-19</text>
<text x="143.4" y="422.5" font-size="15.8" fill="#e2203f" textLength="38.5" lengthAdjust="spacingAndGlyphs" text-anchor="middle">01-30</text>
<text x="221.7" y="422.5" font-size="15.8" fill="#e2203f" textLength="38.5" lengthAdjust="spacingAndGlyphs" text-anchor="middle">02-08</text>
<text x="299.9" y="422.5" font-size="15.8" fill="#e2203f" textLength="38.5" lengthAdjust="spacingAndGlyphs" text-anchor="middle">02-27</text>
<text x="378.2" y="422.5" font-size="15.8" fill="#e2203f" textLength="38.5" lengthAdjust="spacingAndGlyphs" text-anchor="middle">03-07</text>
<text x="456.5" y="422.5" font-size="15.8" fill="#e2203f" textLength="38.5" lengthAdjust="spacingAndGlyphs" text-anchor="middle">03-18</text>
<text x="534.8" y="422.5" font-size="15.8" fill="#e2203f" textLength="38.5" lengthAdjust="spacingAndGlyphs" text-anchor="middle">03-27</text>
<text x="613.1" y="422.5" font-size="15.8" fill="#e2203f" textLength="38.5" lengthAdjust="spacingAndGlyphs" text-anchor="middle">04-09</text>
<text x="691.4" y="422.5" font-size="15.8" fill="#e2203f" textLength="38.5" lengthAdjust="spacingAndGlyphs" text-anchor="middle">04-18</text>
<text x="526.4" y="51.9" font-size="14" fill="#45456e" textLength="27.5" lengthAdjust="spacingAndGlyphs">MA5</text>
<text x="574.8" y="51.9" font-size="14" fill="#f7b348" textLength="34.2" lengthAdjust="spacingAndGlyphs">MA10</text>
<text x="629.6" y="51.9" font-size="14" fill="#b26fe4" textLength="34.5" lengthAdjust="spacingAndGlyphs">MA20</text>
<text x="684.6" y="51.9" font-size="14" fill="#f88dc9" textLength="34.5" lengthAdjust="spacingAndGlyphs">MA60</text>
</svg></body></html>
